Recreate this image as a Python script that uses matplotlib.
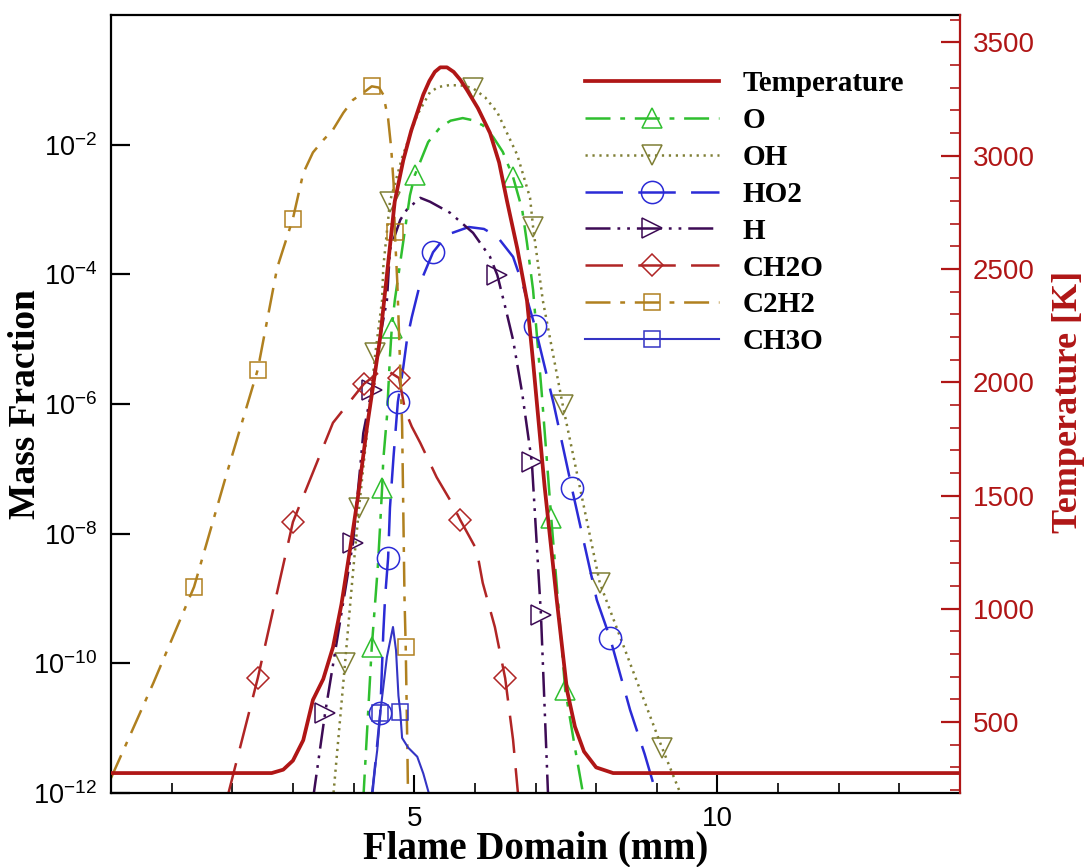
import matplotlib
matplotlib.use("Agg")
import matplotlib.pyplot as plt
from matplotlib.ticker import FixedLocator, FixedFormatter, NullLocator

plt.rcParams['font.family'] = ['Liberation Sans', 'DejaVu Sans']
plt.rcParams['lines.scale_dashes'] = False
plt.rcParams['axes.unicode_minus'] = False

# ---------------- data (x in mm, species as log10 of mass fraction) ----------------
t_x = [0, 2.65, 2.84, 3.0, 3.17, 3.33, 3.5, 3.66, 3.8, 3.94, 4.07, 4.22, 4.32, 4.44, 4.56,
       4.68, 4.82, 4.95, 5.05, 5.15, 5.25, 5.34, 5.43, 5.54, 5.65, 5.76, 5.87, 6.05, 6.25,
       6.4, 6.53, 6.7, 6.86, 6.96, 7.15, 7.35, 7.52, 7.65, 7.8, 8.0, 8.28, 14]
t_y = [275, 275, 290, 330, 420, 598, 690, 830, 1020, 1260, 1490, 1800, 1980, 2200, 2500,
       2800, 2980, 3110, 3190, 3270, 3330, 3370, 3390, 3390, 3370, 3335, 3290, 3210, 3100,
       2970, 2800, 2590, 2360, 2090, 1540, 1040, 640, 480, 370, 300, 275, 275]

o_x = [4.16, 4.30, 4.40, 4.44, 4.47, 4.49, 4.55, 4.60, 4.63, 4.68, 4.80, 4.93, 5.01, 5.23,
       5.43, 5.6, 5.80, 5.95, 6.13, 6.30, 6.46, 6.63, 6.78, 6.86, 6.96, 7.10, 7.26, 7.49,
       7.65, 7.82]
o_log = [-12.1, -9.75, -8.51, -7.84, -7.30, -6.86, -6.2, -5.27, -4.83, -4.40, -3.62, -2.78,
         -2.47, -1.96, -1.73, -1.63, -1.59, -1.62, -1.70, -1.88, -2.11, -2.50, -3.0, -3.52,
         -4.24, -5.8, -7.76, -10.41, -11.3, -12.2]
o_mk = [4.30, 4.47, 4.63, 5.01, 6.63, 7.26, 7.49]

oh_x = [3.66, 3.86, 3.99, 4.09, 4.36, 4.47, 4.49, 4.60, 4.80, 5.05, 5.26, 5.40, 5.59, 5.80,
        5.97, 6.17, 6.37, 6.70, 6.91, 6.96, 7.12, 7.45, 8.06, 8.6, 9.09, 9.43]
oh_log = [-12.1, -9.99, -8.6, -7.6, -5.21, -4.40, -3.89, -2.88, -2.2, -1.54, -1.19, -1.11,
          -1.08, -1.09, -1.13, -1.27, -1.50, -2.16, -2.82, -3.27, -4.40, -6.02, -8.76,
          -10.1, -11.31, -12.1]
oh_mk = [3.86, 4.09, 4.36, 4.60, 5.97, 6.96, 7.45, 8.06, 9.09]

ho2_x = [4.30, 4.44, 4.49, 4.52, 4.57, 4.60, 4.66, 4.73, 4.82, 4.88, 4.96, 5.10, 5.31, 5.54,
         5.9, 6.15, 6.37, 6.63, 6.80, 6.99, 7.3, 7.6, 8.01, 8.23, 8.56, 8.8, 9.02]
ho2_log = [-12.1, -10.77, -9.53, -8.98, -8.37, -7.6, -6.8, -5.97, -5.43, -5.01, -4.66, -4.13,
           -3.66, -3.39, -3.27, -3.30, -3.42, -3.73, -4.19, -4.8, -6.0, -7.3, -9.02, -9.61,
           -10.72, -11.4, -12.1]
ho2_mk = [4.44, 4.57, 4.73, 5.31, 6.99, 7.6, 8.23]

h_x = [3.33, 3.53, 3.99, 4.11, 4.16, 4.30, 4.45, 4.55, 4.60, 4.77, 4.88, 5.10, 5.26, 5.59,
       5.97, 6.25, 6.37, 6.50, 6.63, 6.78, 6.94, 7.09, 7.21]
h_log = [-12.1, -10.77, -8.14, -6.97, -6.45, -5.78, -4.9, -4.40, -3.62, -3.16, -3.0, -2.82,
         -2.88, -3.05, -3.36, -3.73, -4.01, -4.50, -5.01, -5.83, -6.9, -9.25, -12.1]
h_mk = [3.53, 3.99, 4.30, 6.37, 6.94, 7.09]

ch2o_x = [1.91, 2.42, 3.0, 3.66, 4.17, 4.5, 4.75, 4.85, 4.96, 5.10, 5.37, 5.59, 5.76, 6.03,
          6.13, 6.33, 6.50, 6.63, 6.72]
ch2o_log = [-12.1, -10.23, -7.82, -6.29, -5.69, -5.45, -5.6, -6.1, -6.35, -6.6, -7.13, -7.48,
            -7.79, -8.25, -8.76, -9.44, -10.23, -11.18, -12.1]
ch2o_mk = [2.42, 3.0, 4.17, 4.75, 5.76, 6.50]

c2h2_x = [0.0, 0.7, 1.37, 1.9, 2.42, 2.74, 3.0, 3.17, 3.33, 3.50, 3.66, 3.83, 3.99, 4.16,
          4.30, 4.42, 4.49, 4.57, 4.62, 4.66, 4.68, 4.72, 4.80, 4.84, 4.86, 4.89, 4.90]
c2h2_log = [-11.77, -10.3, -8.82, -7.1, -5.47, -3.9, -3.14, -2.44, -2.12, -1.93, -1.77,
            -1.51, -1.31, -1.20, -1.10, -1.12, -1.23, -1.6, -2.05, -2.6, -3.34, -4.1, -6.3,
            -9.0, -9.75, -11.5, -12.2]
c2h2_mk = [1.37, 2.42, 3.0, 4.30, 4.68, 4.86]

ch3o_x = [4.29, 4.39, 4.44, 4.55, 4.65, 4.70, 4.74, 4.77, 4.80, 4.90, 5.05, 5.15, 5.27]
ch3o_log = [-12.1, -11.34, -10.76, -9.9, -9.44, -9.8, -10.5, -10.75, -11.15, -11.3, -11.44,
            -11.7, -12.1]
ch3o_mk = [4.44, 4.77]

x_major = [5, 10]
x_minor = [1, 2, 3, 4, 6, 7, 8, 9, 11, 12, 13]
y_exps = [-12, -10, -8, -6, -4, -2]
t_major = [500, 1000, 1500, 2000, 2500, 3000, 3500]
t_minor = [v for v in range(200, 3700, 100) if v % 500 != 0]

# ---------------- styles ----------------
series = [
    ("O", o_x, o_log, o_mk, '#2fbf2f', (0, (18, 7, 3.5, 7)), '^', 14, 1.8),
    ("OH", oh_x, oh_log, oh_mk, '#7f7f35', (0, (1.6, 3.4)), 'v', 14, 1.8),
    ("HO2", ho2_x, ho2_log, ho2_mk, '#2b2bd6', (0, (27, 11)), 'o', 16, 1.8),
    ("H", h_x, h_log, h_mk, '#3d0b55', (0, (18, 5, 2, 5, 2, 5)), '>', 14, 1.8),
    ("CH2O", ch2o_x, ch2o_log, ch2o_mk, '#b02525', (0, (27, 11)), 'D', 11, 1.8),
    ("C2H2", c2h2_x, c2h2_log, c2h2_mk, '#b0801f', (0, (18, 7, 3.5, 7)), 's', 12, 1.8),
    ("CH3O", ch3o_x, ch3o_log, ch3o_mk, '#3434c4', '-', 's', 12, 1.5),
]
t_color = '#b01616'
serif = 'Liberation Serif'

fig = plt.figure(figsize=(10.87, 8.67), dpi=100)
ax = fig.add_axes([111 / 1087, 1 - 793 / 867, (960 - 111) / 1087, (793 - 15) / 867])
ax.set_yscale('log')
ax.set_xlim(0, 14)
ax.set_ylim(1e-12, 1)

handles = {}
for name, xs, logs, mks, col, ls, mk, ms, lw in series:
    ys = [10.0 ** v for v in logs]
    idx = [i for i, v in enumerate(xs) if v in mks]
    line, = ax.plot(xs, ys, color=col, linestyle=ls, linewidth=lw, marker=mk,
                    markersize=ms, markerfacecolor='none', markeredgecolor=col,
                    markeredgewidth=1.1, markevery=idx, label=name)
    handles[name] = line

ax2 = ax.twinx()
ax2.set_ylim(187, 3621)
tline, = ax2.plot(t_x, t_y, color=t_color, linewidth=2.7, label='Temperature')

# ---------------- axes styling ----------------
for s in ['left', 'bottom', 'top']:
    ax.spines[s].set_linewidth(1.6)
    ax.spines[s].set_color('black')
ax2.spines['right'].set_color(t_color)
ax2.spines['right'].set_linewidth(1.6)
for s in ['left', 'bottom', 'top']:
    ax2.spines[s].set_visible(False)
ax.spines['right'].set_visible(False)

ax.xaxis.set_major_locator(FixedLocator(x_major))
ax.xaxis.set_minor_locator(FixedLocator(x_minor))
ax.xaxis.set_major_formatter(FixedFormatter([str(v) for v in x_major]))
ax.yaxis.set_major_locator(FixedLocator([10.0 ** e for e in y_exps]))
ax.yaxis.set_minor_locator(NullLocator())
ax.yaxis.set_major_formatter(FixedFormatter([r'$\mathregular{10^{%d}}$' % e for e in y_exps]))

ax.tick_params(axis='x', which='both', direction='in', top=False, bottom=True,
               labelsize=20, pad=9)
ax.tick_params(axis='x', which='major', length=13, width=1.5)
ax.tick_params(axis='x', which='minor', length=7, width=1.2)
ax.tick_params(axis='y', which='major', direction='in', left=True, right=False,
               length=13.5, width=1.6, labelsize=19.5, pad=10)

ax2.yaxis.set_major_locator(FixedLocator(t_major))
ax2.yaxis.set_minor_locator(FixedLocator(t_minor))
ax2.yaxis.set_major_formatter(FixedFormatter([str(v) for v in t_major]))
ax2.tick_params(axis='y', which='both', direction='in', colors=t_color, labelsize=20, pad=9)
ax2.tick_params(axis='y', which='major', length=14, width=1.6)
ax2.tick_params(axis='y', which='minor', length=7, width=1.2)

ax.set_xlabel('Flame Domain (mm)', fontsize=28, fontweight='bold', family=serif, labelpad=-1)
ax.set_ylabel('Mass Fraction', fontsize=27, fontweight='bold', family=serif)
ax.yaxis.set_label_coords(-0.080, 0.5)
fig.text(1085 / 1087, 1 - 402 / 867, 'Temperature [K]', rotation=90, fontsize=26,
         fontweight='bold', family=serif, color=t_color, ha='right', va='center')

order = [tline] + [handles[n] for n in ["O", "OH", "HO2", "H", "CH2O", "C2H2", "CH3O"]]
leg = ax2.legend(handles=order, labels=[h.get_label() for h in order],
                 loc='upper left', bbox_to_anchor=(585 / 1087, 1 - 70 / 867),
                 bbox_transform=fig.transFigure, frameon=False, numpoints=1,
                 handlelength=4.6, handletextpad=0.8, labelspacing=0.34,
                 borderpad=0, borderaxespad=0,
                 prop={'family': serif, 'weight': 'bold', 'size': 21})

fig.savefig('out.png', dpi=100)
